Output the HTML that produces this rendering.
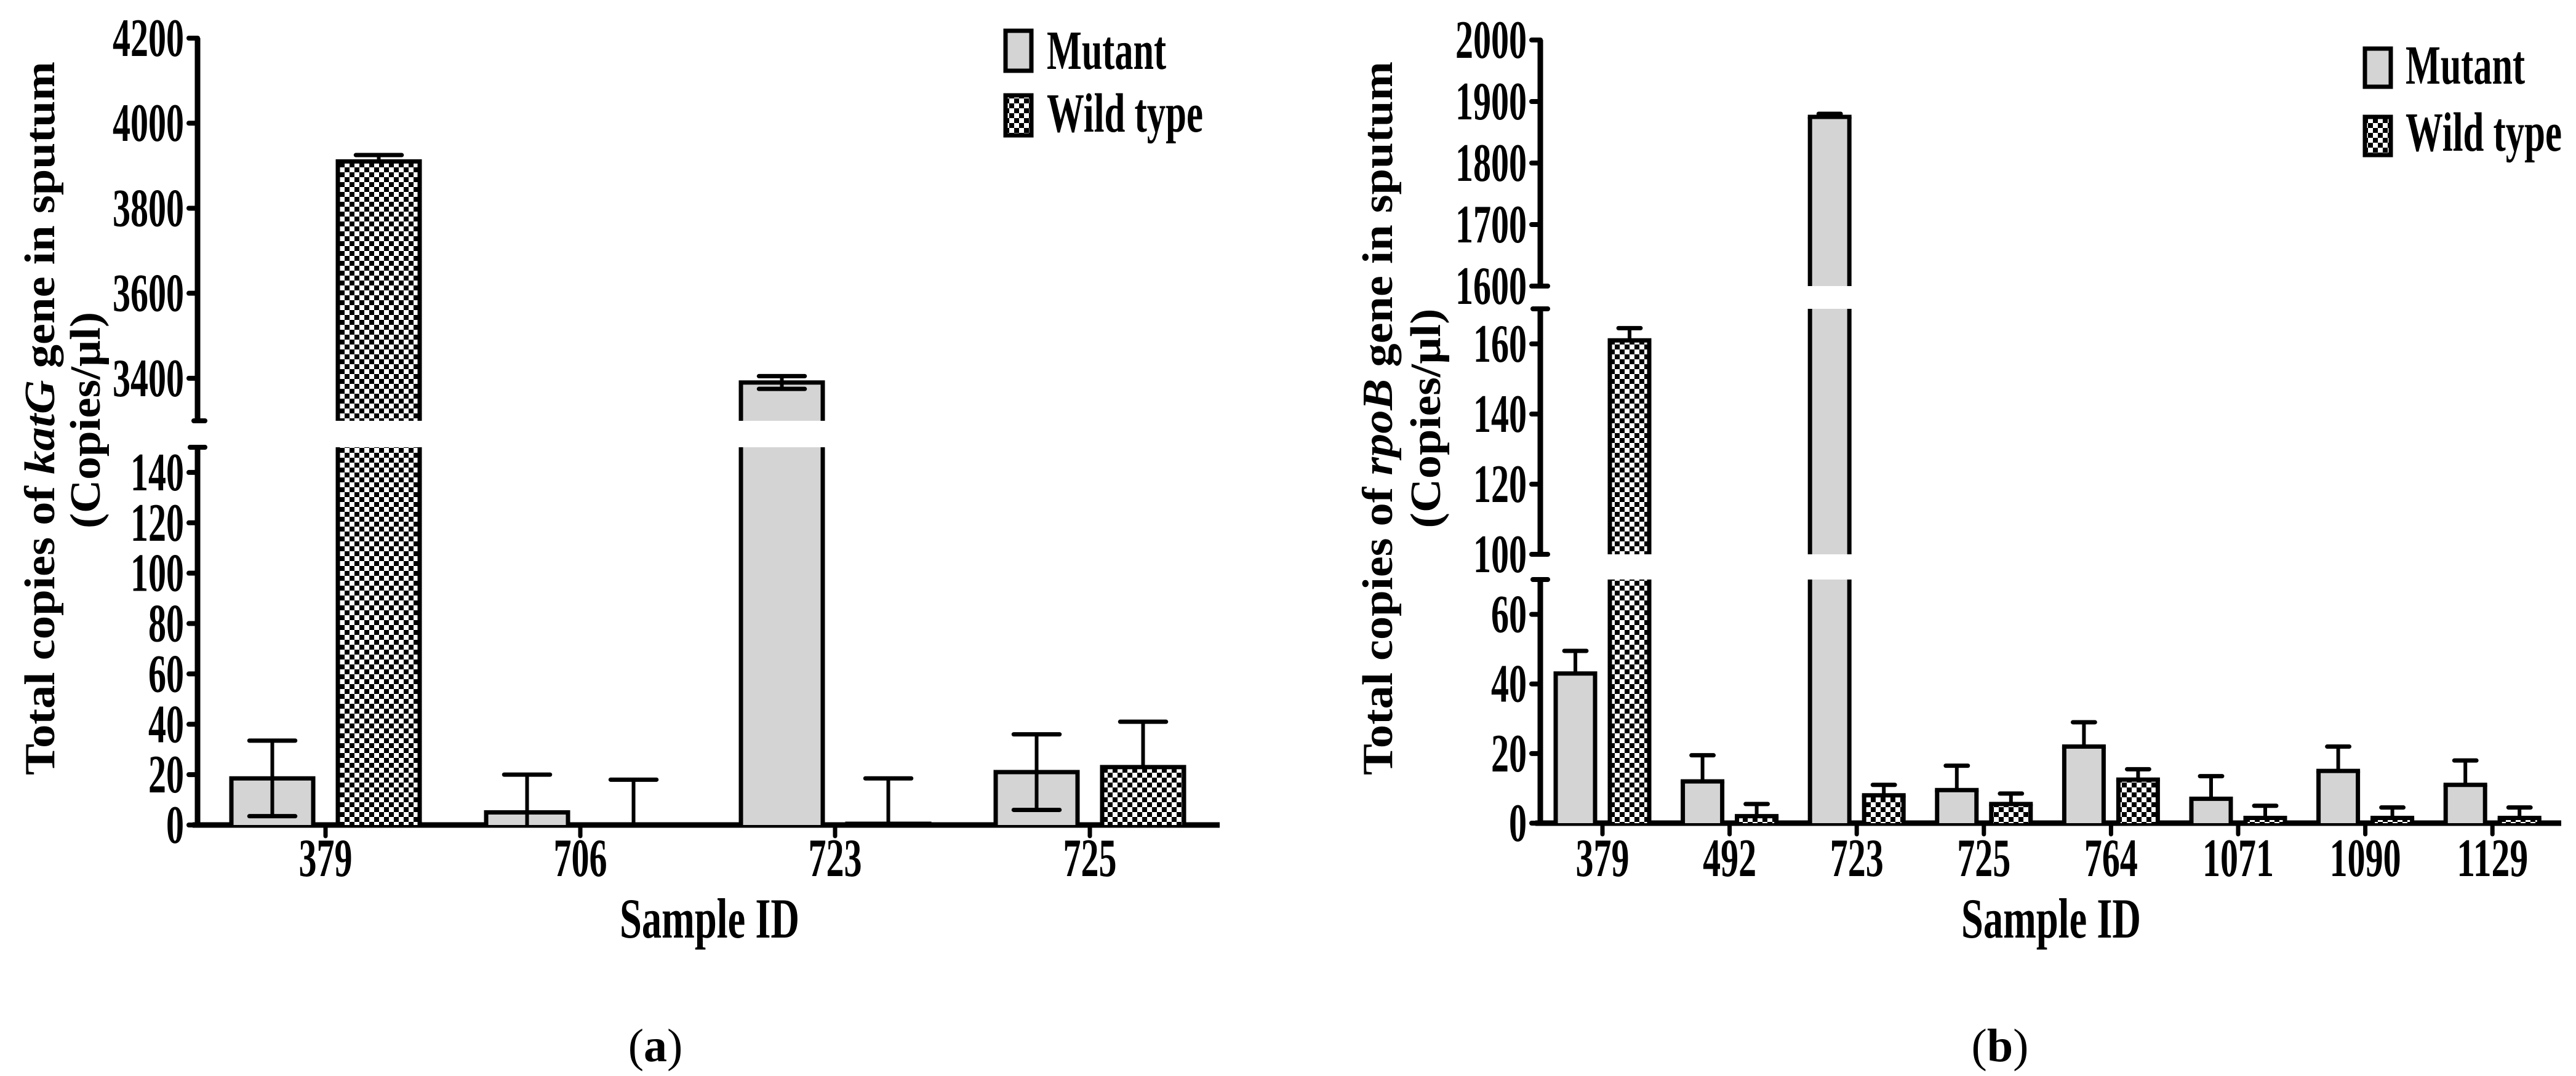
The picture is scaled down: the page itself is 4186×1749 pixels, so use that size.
<!DOCTYPE html>
<html><head><meta charset="utf-8"><style>
html,body{margin:0;padding:0;background:#fff;}
svg{display:block;}
text{font-family:"Liberation Serif",serif;font-weight:bold;fill:#000;}
</style></head><body>
<svg id="chart" width="4186" height="1749" viewBox="0 0 4186 1749" xmlns="http://www.w3.org/2000/svg">
<defs>
<pattern id="checker" width="16" height="16" patternUnits="userSpaceOnUse">
<rect width="16" height="16" fill="#fff"/>
<rect width="8" height="8" fill="#000"/>
<rect x="8" y="8" width="8" height="8" fill="#000"/>
</pattern>
</defs>
<g id="pa"></g>
<g id="pb"></g>
</svg>
<script>
// Panel A data
const catsA = ["379","706","723","725"];
const mutA = [18.5, 5, 3390, 21];
const mutErrA = [15, 15, 15, 15];
const wtA = [3910, 0, 0.5, 23];
const wtErrA = [15, 18, 18, 18];
const ticksA1 = [0,20,40,60,80,100,120,140];
const ticksA2 = [3400,3600,3800,4000,4200];
// Panel B data
const catsB = ["379","492","723","725","764","1071","1090","1129"];
const mutB = [43, 12, 1875, 9.5, 22, 7, 15, 11];
const mutErrB = [6.5, 7.5, 5, 7, 7, 6.5, 7, 7];
const wtB = [161, 2, 8, 5.5, 12.5, 1.5, 1.5, 1.5];
const wtErrB = [3.5, 3.5, 3, 3, 3, 3.5, 3, 3];
const ticksB1 = [0,20,40,60];
const ticksB2 = [100,120,140,160];
const ticksB3 = [1600,1700,1800,1900,2000];

const NS="http://www.w3.org/2000/svg";
function mk(parent, tag, attrs){const e=document.createElementNS(NS,tag);for(const k in attrs)e.setAttribute(k,attrs[k]);parent.appendChild(e);return e;}

function drawPanel(g, cfg){
  const segs=cfg.segs;
  function segOf(v){for(const s of segs){if(v>=s.min&&v<=s.max)return s;}return null;}
  function yv(s,v){return s.y0-(v-s.min)*(s.y0-s.y1)/(s.max-s.min);}
  const ax=cfg.axisX;
  segs.forEach((s,i)=>{
    const top = s.y1, bot = s.y0;
    const l=mk(g,'line',{x1:ax,y1:bot,x2:ax,y2:top,stroke:'#000','stroke-width':9});
    
    
    if(i>0){const c=mk(g,'line',{x1:ax-6,y1:bot,x2:ax+12,y2:bot,stroke:'#000','stroke-width':8,'stroke-linecap':'round'});
      }
    if(i<segs.length-1){const c=mk(g,'line',{x1:ax-12,y1:top,x2:ax+12,y2:top,stroke:'#000','stroke-width':8,'stroke-linecap':'round'});
      }
    s.ticks.forEach(t=>{
      const y=yv(s,t);
      const tk=mk(g,'line',{x1:ax-14,y1:y,x2:ax,y2:y,stroke:'#000','stroke-width':8,'stroke-linecap':'round'});
      
      
      const lab=String(t);
      const tx=mk(g,'text',{x:ax-22,y:y+29,'font-size':88,'text-anchor':'end',textLength:lab.length*29,lengthAdjust:'spacingAndGlyphs'});
      tx.textContent=lab;
      
      
    });
  });
  const x0y=segs[0].y0;
  const xa=mk(g,'line',{x1:ax-8,y1:x0y,x2:cfg.axisEnd,y2:x0y,stroke:'#000','stroke-width':9});
  
  
  const series=[{vals:cfg.mut,errs:cfg.mutErr,fill:'#d4d4d4',off:-1,name:'mutant'},{vals:cfg.wt,errs:cfg.wtErr,fill:'url(#checker)',off:1,name:'wild-type'}];
  cfg.cats.forEach((c,i)=>{
    const cx=cfg.x0+i*cfg.step;
    const xt=mk(g,'line',{x1:cx,y1:x0y,x2:cx,y2:x0y+18,stroke:'#000','stroke-width':7,'stroke-linecap':'round'});
    
    
    series.forEach(se=>{
      const v=se.vals[i];
      const bx= se.off<0 ? cx-cfg.gap/2-cfg.bw : cx+cfg.gap/2;
      segs.forEach(s=>{
        if(v<=s.min && s.min>0)return;
        const vt=Math.min(v,s.max);
        const yt=yv(s,vt), yb=s.y0;
        const r=mk(g,'rect',{x:bx,y:yt,width:cfg.bw,height:Math.max(0,yb-yt),fill:se.fill});
        
        
        mk(g,'line',{x1:bx,y1:yt,x2:bx,y2:yb,stroke:'#000','stroke-width':7});
        mk(g,'line',{x1:bx+cfg.bw,y1:yt,x2:bx+cfg.bw,y2:yb,stroke:'#000','stroke-width':7});
        if(v<=s.max) mk(g,'line',{x1:bx-3.5,y1:yt,x2:bx+cfg.bw+3.5,y2:yt,stroke:'#000','stroke-width':7});
      });
      const e=se.errs[i];
      const s=segOf(v)||segs[0];
      const ytop=yv(s,Math.min(v+e,s.max));
      const ylow=cfg.both&&se.off<0?yv(s,Math.max(v-e,s.min)):yv(s,v);
      const ex=bx+cfg.bw/2, cw=cfg.bw*0.28;
      const el=mk(g,'line',{x1:ex,y1:ylow,x2:ex,y2:ytop,stroke:'#000','stroke-width':6});
      
      
      mk(g,'line',{x1:ex-cw,y1:ytop,x2:ex+cw,y2:ytop,stroke:'#000','stroke-width':7,'stroke-linecap':'round'});
      if(cfg.both&&se.off<0&&v-e>s.min) mk(g,'line',{x1:ex-cw,y1:ylow,x2:ex+cw,y2:ylow,stroke:'#000','stroke-width':7,'stroke-linecap':'round'});
    });
    const tl=mk(g,'text',{x:cx,y:1424,'font-size':88,'text-anchor':'middle',textLength:c.length*29,lengthAdjust:'spacingAndGlyphs'});
    tl.textContent=c;
    
    
  });
}

drawPanel(document.getElementById('pa'),{
  axisX:321, axisEnd:1982, cats:catsA, mut:mutA, mutErr:mutErrA, wt:wtA, wtErr:wtErrA,
  x0:529, step:414, bw:133, gap:40, both:true,
  segs:[{min:0,max:150,y0:1341,y1:727,ticks:ticksA1},{min:3300,max:4200,y0:684,y1:62,ticks:ticksA2}]
});
drawPanel(document.getElementById('pb'),{
  axisX:2503, axisEnd:4162, cats:catsB, mut:mutB, mutErr:mutErrB, wt:wtB, wtErr:wtErrB,
  x0:2604, step:206.6, bw:64, gap:24, both:false,
  segs:[{min:0,max:70,y0:1338,y1:942,ticks:ticksB1},{min:100,max:170,y0:901,y1:502,ticks:ticksB2},{min:1600,max:2000,y0:465,y1:65,ticks:ticksB3}]
});
</script>
<svg width="4186" height="1749" style="position:absolute;left:0;top:0" xmlns="http://www.w3.org/2000/svg">
<defs>
<pattern id="checker2" width="16" height="16" patternUnits="userSpaceOnUse">
<rect width="16" height="16" fill="#fff"/>
<rect width="8" height="8" fill="#000"/>
<rect x="8" y="8" width="8" height="8" fill="#000"/>
</pattern>
</defs>
<g>
<text transform="translate(88,680) rotate(-90)" font-size="70" text-anchor="middle" textLength="1160" lengthAdjust="spacingAndGlyphs">Total copies of <tspan font-style="italic">katG</tspan> gene in sputum</text>
<text transform="translate(162,683) rotate(-90)" font-size="70" text-anchor="middle" textLength="352" lengthAdjust="spacingAndGlyphs">(Copies/µl)</text>
<text x="1153" y="1524" font-size="92" text-anchor="middle" textLength="292" lengthAdjust="spacingAndGlyphs">Sample ID</text>
<text x="1065" y="1725" font-size="76" style="font-weight:normal" text-anchor="middle">(<tspan font-weight="bold">a</tspan>)</text>
<rect x="1634" y="50" width="42" height="65" fill="#d4d4d4" stroke="#000" stroke-width="7"/>
<text x="1701" y="112" font-size="90" textLength="194" lengthAdjust="spacingAndGlyphs">Mutant</text>
<rect x="1634" y="155" width="42" height="65" fill="url(#checker2)" stroke="#000" stroke-width="7"/>
<text x="1701" y="214" font-size="90" textLength="254" lengthAdjust="spacingAndGlyphs">Wild type</text>
</g>
<g>
<text transform="translate(2262,680) rotate(-90)" font-size="70" text-anchor="middle" textLength="1160" lengthAdjust="spacingAndGlyphs">Total copies of <tspan font-style="italic">rpoB</tspan> gene in sputum</text>
<text transform="translate(2340,680) rotate(-90)" font-size="70" text-anchor="middle" textLength="357" lengthAdjust="spacingAndGlyphs">(Copies/µl)</text>
<text x="3333" y="1524" font-size="92" text-anchor="middle" textLength="292" lengthAdjust="spacingAndGlyphs">Sample ID</text>
<text x="3250" y="1725" font-size="76" style="font-weight:normal" text-anchor="middle">(<tspan font-weight="bold">b</tspan>)</text>
<rect x="3843" y="79" width="42" height="62" fill="#d4d4d4" stroke="#000" stroke-width="7"/>
<text x="3909" y="136" font-size="90" textLength="194" lengthAdjust="spacingAndGlyphs">Mutant</text>
<text x="3909" y="245" font-size="90" textLength="254" lengthAdjust="spacingAndGlyphs">Wild type</text>
<rect x="3843" y="190" width="42" height="62" fill="url(#checker2)" stroke="#000" stroke-width="7"/>
</g>
</svg>
</body></html>
